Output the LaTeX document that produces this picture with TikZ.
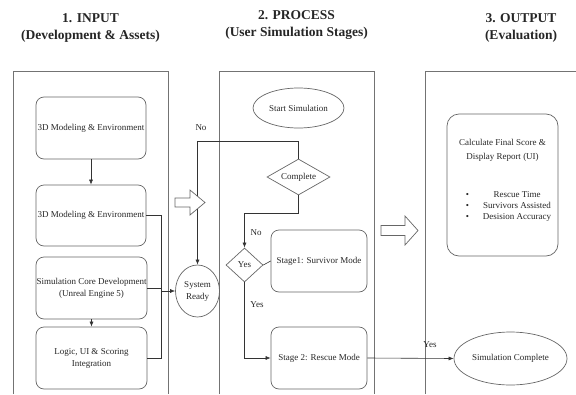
\documentclass[tikz,border=0pt]{standalone}
\usepackage{fontspec}
\setmainfont{Liberation Serif}
\usetikzlibrary{shapes.geometric,arrows.meta}

\begin{document}
\begin{tikzpicture}[x=1pt, y=-1pt,
	lane/.style={draw=black!55, line width=0.7pt},
	title/.style={font=\fontsize{13.5}{17}\selectfont\bfseries, align=center, text=black!85},
	textbox/.style={font=\fontsize{9}{12}\selectfont, draw=black!60, line width=0.7pt, rounded corners=8, inner sep=0, align=center, text=black!85},
	oval/.style={font=\fontsize{9}{12}\selectfont, ellipse, draw=black!60, line width=0.7pt, inner sep=0, align=center, text=black!85},
	decision/.style={font=\fontsize{9}{12}\selectfont, diamond, aspect=1.75, draw=black!60, line width=0.7pt, inner sep=0, text=black!85},
	lbl/.style={font=\fontsize{9}{11}\selectfont, text=black!85, inner sep=0},
	flow/.style={draw=black!80, line width=0.6pt},
	arr/.style={flow, -{Latex[length=5pt, width=4pt]}},
	hollow/.style={draw=black!60, line width=0.7pt, fill=white}
]
\useasboundingbox (0,0) rectangle (576,394);

% lanes
\node[title] (t1) at (90.5,28) {1. INPUT\\(Development \& Assets)};
\node[title] (t2) at (296.5,25) {2. PROCESS\\(User Simulation Stages)};
\node[title] (t3) at (521,28) {3. OUTPUT\\(Evaluation)};
\draw[lane] (13,394) -- (13,71) -- (168,71) -- (168,394);
\draw[lane] (219,394) -- (219,71) -- (374,71) -- (374,394);
\draw[lane] (425,394) -- (425,71) -- (576,71);

% input
\node[textbox, minimum width=110, minimum height=62] (model1) at (91,128) {3D Modeling \& Environment};
\node[textbox, minimum width=110, minimum height=61] (model2) at (91,215.5) {3D Modeling \& Environment};
\node[textbox, minimum width=111, minimum height=62] (core) at (91.5,288) {Simulation Core Development\\(Unreal Engine 5)};
\node[textbox, minimum width=111, minimum height=62] (logic) at (91.5,358) {Logic, UI \& Scoring\\Integration};
\node[oval, minimum width=44, minimum height=52] (ready) at (197.5,291) {System\\Ready};
\coordinate (join) at (161,291);

\draw[arr] (model1) -- (model2);
\draw[arr] (core) -- (logic);
\draw[flow] (model2.east) -| (join);
\draw[flow] (logic.east) -| (join);
\draw[flow] (core.east) -- (core.east -| join);
\draw[arr] (join) -- (ready.west);

% process
\node[oval, minimum width=91, minimum height=40] (start) at (298.5,108) {Start Simulation};
\node[decision, minimum width=63, minimum height=36] (complete) at (298.5,177) {Complete};
\node[decision, minimum width=37, minimum height=34] (yes) at (244.5,265) {Yes};
\node[textbox, minimum width=96, minimum height=62] (stage1) at (319,261) {Stage1: Survivor Mode};
\node[textbox, minimum width=96, minimum height=62] (stage2) at (319,358) {Stage 2: Rescue Mode};
\coordinate (loop) at (197.5,141);
\coordinate (drop) at (244.5,213);

\draw[arr] (complete.north) |- (loop) -- (ready.north);
\node[lbl] (no1) at (201,128) {No};
\draw[arr] (complete.south) |- (drop) -- (yes.north);
\node[lbl] (no2) at (256,233) {No};
\draw[flow] (yes.east) -- (stage1.west);
\draw[arr] (yes.south) |- (stage2.west);
\node[lbl] (yes1) at (257,305) {Yes};

% output
\node[textbox, rounded corners=12, minimum width=111, minimum height=142] (report) at (502.5,185) {};
\node[lbl, align=center, font=\fontsize{9}{14}\selectfont] (reporttitle) at (502.5,150) {Calculate Final Score \&\\Display Report (UI)};
\node[lbl] (points) at (508.5,206) {\begin{tabular}{@{}l@{\hspace{14pt}}c@{}}
\textbullet & Rescue Time\\
\textbullet & Survivors Assisted\\
\textbullet & Desision Accuracy
\end{tabular}};
\node[oval, minimum width=113, minimum height=53] (done) at (510.5,358.5) {Simulation Complete};
\draw[arr] (stage2.east) -- (done.west);
\node[lbl] (yes2) at (430,345) {Yes};

% block arrows between lanes
\draw[hollow] (175,198) -- (190,198) -- (190,190) -- (205,202.5) -- (190,215) -- (190,207) -- (175,207) -- cycle;
\draw[hollow] (381,225.5) -- (405,225.5) -- (405,216) -- (418,230.5) -- (405,245) -- (405,235.5) -- (381,235.5) -- cycle;
\end{tikzpicture}
\end{document}
